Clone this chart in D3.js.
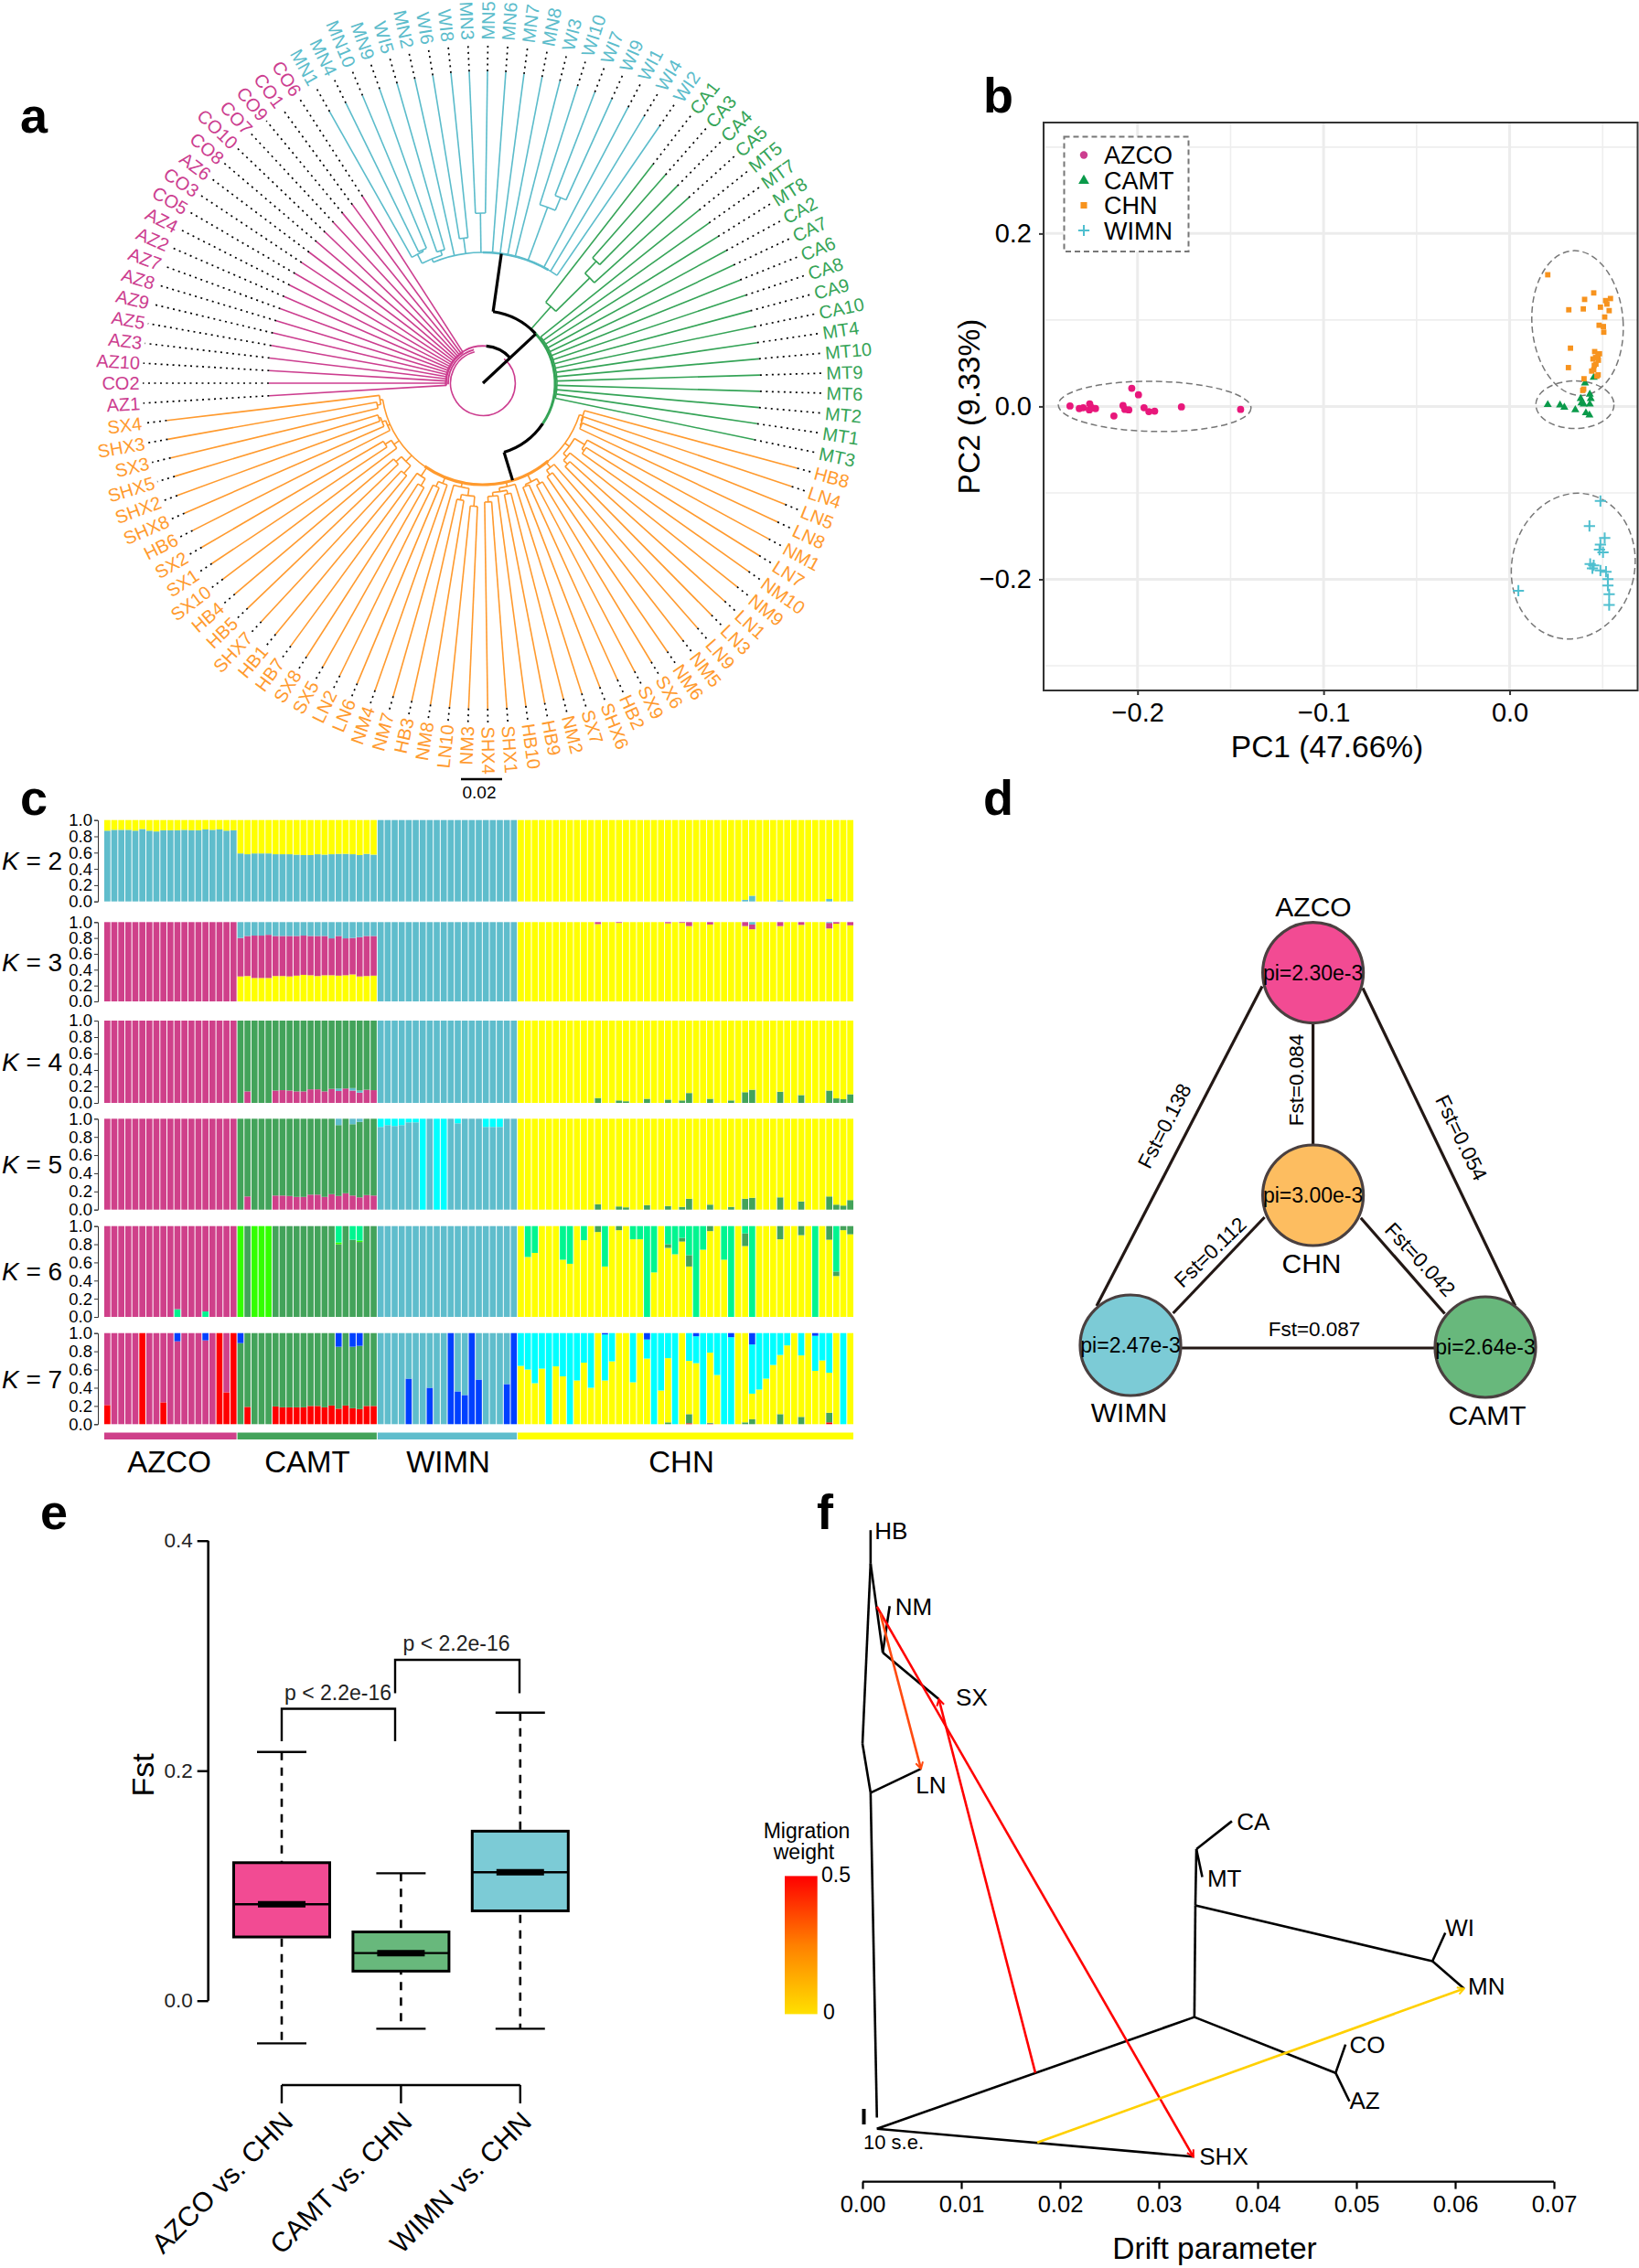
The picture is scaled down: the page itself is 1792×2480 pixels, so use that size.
<!DOCTYPE html>
<html><head><meta charset="utf-8">
<script src="https://cdn.jsdelivr.net/npm/d3@7/dist/d3.min.js"></script>
<style>html,body{margin:0;background:#fff}svg{display:block}text{font-family:"Liberation Sans",Arial,sans-serif}</style>
</head><body><svg id="fig" width="1792" height="2480"></svg>
<script>
/* ---------- colours ---------- */
const PINK="#cc3d8f",TEAL="#5bbccb",GREEN="#35a457",ORANGE="#ff9a2e";
const S_MAG="#cf408a",S_GRN="#43a35a",S_TEAL="#5fbdcc",S_YEL="#ffff00",S_CYAN="#00ffff",S_BLUE="#0040ff",S_RED="#ff0000",S_SPR="#00f590",S_LIME="#33ff00";

/* ---------- a: tree ---------- */
const pinkClade=[40,"AZ1","CO2","AZ10","AZ3","AZ5","AZ9","AZ8","AZ7","AZ2","AZ4","CO5","CO3","AZ6","CO8","CO10","CO7","CO9","CO1","CO6"];
const pinkTips=[234,234,234,235,235,236,236,236,237,237,238,238,238,239,239,240,241,242,243];
const cyanClade=[143,[147,[158,"MN1",[160,"MN4","MN10"]],[152,"MN9","WI5"]],"MN2",[160,"WI6","WI8"],[186,"MN3","MN5"],"MN6","MN7","MN8","WI3",[205,"WI10",[220,"WI7","WI9"]],"WI1","WI4","WI2"];
const greenClade=[79,[112,"CA1",[164,[182,"CA3","CA4"],"CA5"]],[81,"MT5","MT7","MT8","CA2","CA7","CA6","CA8","CA9","CA10","MT4","MT10","MT9","MT6","MT2","MT1","MT3"]];
const orangeClade=[111,
 [115,"HB8",[116,"LN4",[117,"LN5","LN8"]]],
 [117,[130,"NM1",[133,"LN7","NM10"]],[122,"NM9",[128,"LN1","LN3"]]],
 [118,"LN9",[124,"NM5","NM6"]],
 [120,[126,"SX6","SX9"],[122,"HB2","SHX6"]],
 [116,"SX7",[120,[124,"NM2","HB9"],[124,"HB10",[130,"SHX1","SHX4"]]]],
 [116,[124,[135,"NM3","LN10"],[130,"NM8","HB3"]],"NM7"],
 [118,"NM4",[124,"LN6","LN2"]],
 [122,[131,"SX5","SX8"],"HB7"],
 [120,[131,"HB1","SHX7"],[128,"HB5","HB4"]],
 [118,"SX10",[126,"SX1","SX2"]],
 [114,"HB6",[118,"SHX8",[120,"SHX2","SHX5"]]],
 [114,[118,"SX3","SHX3"],"SX4"]];
const cladeTip={cyan:341,green:303,orange:356};
const tipOverride={SX4:348,SHX3:350,SX3:351,SHX5:352};
const backbone=[
 {r:35.4,a:41,b:345,c:PINK,w:1.6},{r:38,a:268,b:345,c:PINK,w:1.8},{r:40.7,a:266,b:365.1,c:PINK,w:1.8},
 {r:79,a:41.5,b:124,c:GREEN,w:3},{r:111,a:140,b:215,c:ORANGE,w:3.2},
 {r:143,a:0,b:30,c:TEAL,w:2.6},
 {r:40.7,a:5.1,b:47,c:"#000",w:3.2},{r:79,a:8.1,b:46.5,c:"#000",w:3.2},{r:79,a:124,b:163,c:"#000",w:3.2}];
const backboneStems=[{t:47,r0:0,r1:79},{t:8.1,r0:79,r1:143},{t:163,r0:79,r1:111}];

/* ---------- b: PCA ---------- */
const pcaAZCO=[[-.2363,.0005],[-.2313,-.0025],[-.2292,-.0015],[-.2257,.003],[-.2259,-.004],[-.2245,-.0015],[-.2226,-.0025],[-.2127,-.011],[-.2078,.001],[-.2068,-.0035],[-.2047,-.004],[-.2031,.021],[-.1995,.0135],[-.1965,-.0015],[-.1939,-.006],[-.1908,-.0055],[-.1764,-.0005],[-.1446,-.0035]];
const pcaCAMT=[[.0205,.002],[.0271,.0015],[.0294,-.001],[.0353,-.004],[.0382,.009],[.0386,.004],[.041,-.0075],[.0405,.027],[.0431,.014],[.0436,.009],[.0431,.0025],[.0429,-.01],[.0452,.0335],[.0398,.0025]];
const pcaCHN=[[.0205,.1523],[.0452,.1313],[.0403,.1238],[.0542,.1248],[.0516,.1224],[.0523,.1184],[.0318,.1118],[.0396,.1128],[.0488,.1148],[.0535,.1108],[.0511,.1034],[.0481,.0939],[.0504,.0924],[.0506,.0859],[.0327,.0674],[.0457,.0634],[.0483,.0609],[.0448,.0549],[.0477,.0534],[.0464,.0489],[.0452,.0424],[.0441,.0409],[.0316,.0449],[.04,.032],[.0469,.035],[.0476,.0365],[.0398,.02],[.0393,.0185],[.0462,.0565],[.0455,.0475],[.0475,.0595]];
const pcaWIMN=[[.0488,-.1094],[.0429,-.1383],[.0511,-.1523],[.0488,-.1598],[.0483,-.1658],[.0502,-.1688],[.0433,-.1823],[.0452,-.1838],[.0445,-.1873],[.0488,-.1898],[.0518,-.1913],[.0528,-.1998],[.0528,-.2073],[.0535,-.2173],[.0535,-.2298],[.0047,-.2132]];
const pcaEllipses=[[-.1908,0,.0518,.029,1],[.0365,.0964,.0245,.0839,-4],[.0351,.002,.021,.0275,0],[.0342,-.1848,.033,.0849,12]];
const pcaLegend=["AZCO","CAMT","CHN","WIMN"];

/* ---------- c: admixture (values per individual, by group) ---------- */
const k2TealAZ=[.87,.88,.88,.88,.87,.89,.87,.86,.875,.875,.875,.88,.875,.875,.885,.88,.885,.87,.875];
const k2TealCA=[.59,.58,.59,.59,.59,.58,.58,.58,.575,.57,.57,.58,.575,.58,.585,.585,.58,.57,.585,.575];
const allWI=[1,1,1,1,1,1,1,1,1,1,1,1,1,1,1,1,1,1,1,1];
const k2TealCN=[0,0,0,0,0,0,0,0,0,0,0,0, 0,0,0,0,0,0,0,0,0,0,0,0, .005,0,0,0,0,0,0,0,.02,.07,0,0, 0,.015,0,0,0,0,0,0,.03,0,0,.005];
const k3YelCA=[.315,.32,.295,.295,.295,.32,.32,.315,.325,.335,.33,.32,.33,.33,.325,.33,.34,.315,.32,.325];
const k3TealCA=[.2,.175,.17,.17,.16,.175,.175,.175,.175,.17,.175,.175,.175,.205,.175,.205,.2,.19,.175,.175];
const k3PinkCN=[0,0,0,0,0,0,0,0,0,0,0,.025, 0,0,.01,0,0,0,0,0,0,.015,0,.01, .05,0,0,.03,0,0,0,0,.05,.06,0,0, 0,.05,0,0,.035,0,0,0,.07,.02,0,.04];
const k3TealCN=[0,0,0,0,0,0,0,0,0,0,0,0, 0,0,0,0,0,0,0,0,0,0,0,0, 0,0,0,0,0,0,0,0,0,.03,0,0, 0,0,0,0,0,0,0,0,.01,0,0,0];
const k4PinkCA=[0,.14,0,0,0,.15,.155,.15,.14,.14,.165,.165,.14,.17,.145,.175,.15,.125,.16,.155];
const k4TealCA=[0,0,0,0,0,0,0,0,0,0,0,0,0,0,.03,0,.03,.025,0,0];
const k4DarkCN=[0,0,0,0,0,0,0,0,0,0,0,.06, 0,0,.03,.02,0,0,.05,0,0,.04,0,.03, .12,0,0,.05,0,0,.03,0,.13,.16,0,0, 0,.135,0,0,.095,0,0,0,.15,.055,.045,.105];
const k5PinkCA=[0,.145,0,0,0,.155,.155,.15,.14,.14,.165,.165,.14,.17,.15,.18,.155,.135,.16,.155];
const k5TealCA=[0,0,0,0,0,0,0,0,0,0,0,0,0,0,.07,0,.06,.035,0,0];
const k5CyanWI=[.09,.07,.08,.07,.04,.04,1,0,1,1,0,.05,0,0,0,.09,.09,.09,0,0];
const k5DarkCN=[0,0,0,0,0,0,0,0,0,0,0,.06, 0,0,.035,.025,0,0,.05,0,0,.04,0,.03, .12,0,0,.055,0,0,.03,0,.12,.13,0,0, 0,.135,0,0,.09,0,0,0,.145,.055,.045,.105];
const k6SprAZ=[0,0,0,0,0,0,0,0,0,0,.085,0,0,0,.06,0,0,0,0];
const k6LimeCA=[1,0,1,1,1,0,0,0,0,0,0,0,0,0,.02,0,0,.015,0,0];
const k6SprCA=[0,0,0,0,0,0,0,0,0,0,0,0,0,0,.18,0,.15,.16,0,0];
const k6DarkCN=[0,0,0,0,0,0,0,0,0,0,0,.065, 0,0,.045,0,0,0,0,0,0,.04,0,.04, .125,0,0,.055,0,0,0,0,.14,0,0,0, 0,.145,0,0,.1,0,0,0,.15,.05,.045,.09];
const k6SprCN=[0,.34,.295,0,0,0,.37,.415,0,.155,0,0, .445,0,0,0,.145,.145,1,.51,0,.2,.31,.13, .32,1,.26,0,0,.37,1,0,.08,1,0,0, 0,0,0,0,0,0,1,0,0,.5,0,0];
const k7RedAZ=[.21,0,0,0,0,1,0,0,.24,0,0,0,0,0,0,0,1,.35,1];
const k7BlueAZ=[0,0,0,0,0,0,0,0,0,0,.09,0,0,0,.08,0,0,0,0];
const k7RedCA=[0,.19,0,0,0,.195,.185,.185,.185,.185,.2,.2,.185,.205,.17,.205,.175,.165,.2,.2];
const k7BlueCA=[.11,0,0,0,0,0,0,0,0,0,0,0,0,0,.15,0,.15,.14,0,0];
const k7BlueWI=[0,0,0,0,.5,0,0,.4,0,0,1,.36,.32,1,.49,0,0,0,.44,1];
const k7RedCN=[0,0,0,0,0,0,0,0,0,0,0,0, 0,0,0,0,0,0,0,0,0,0,0,0, .01,0,0,.005,0,0,0,0,0,0,0,0, 0,0,0,0,0,0,0,0,.02,0,0,0];
const k7DarkCN=[0,0,0,0,0,0,0,0,0,0,0,0, 0,0,0,0,0,0,0,0,0,.02,0,0, .1,0,0,.01,0,0,0,0,.02,.055,0,0, 0,.11,0,0,.08,0,0,0,.105,0,0,0];
const k7YelCN=[.64,.6,.45,.61,0,.635,.525,0,.48,.675,.4,1, .48,.69,1,1,.46,1,.72,0,.37,.705,0,1, .585,.67,0,.77,.54,0,0,1,.98,.28,.38,.5, .65,.65,.865,1,.675,1,.585,.7,.44,1,0,1];
const k7BlueCN=[0,0,0,0,0,0,0,0,0,0,0,0, .015,0,0,0,0,0,.07,0,0,0,0,0, 0,.035,0,0,0,0,.045,0,0,.125,0,0, 0,0,0,0,0,0,.03,0,0,0,0,0];
const admixGroups=["AZCO","CAMT","WIMN","CHN"];
const admixSizes=[19,20,20,48];
const admixTicks=[0,.2,.4,.6,.8,1];

/* ---------- d: network ---------- */
const netPops=["AZCO","CHN","WIMN","CAMT"];
const netPi=["pi=2.30e-3","pi=3.00e-3","pi=2.47e-3","pi=2.64e-3"];
const netEdges=[["AZCO","WIMN","Fst=0.138"],["AZCO","CHN","Fst=0.084"],["AZCO","CAMT","Fst=0.054"],["CHN","WIMN","Fst=0.112"],["CHN","CAMT","Fst=0.042"],["WIMN","CAMT","Fst=0.087"]];

/* ---------- e: boxplot ---------- */
const boxNames=["AZCO vs. CHN","CAMT vs. CHN","WIMN vs. CHN"];
const boxLo=[-.0371,-.0244,-.0244];
const boxQ1=[.0554,.0257,.0781];
const boxMed=[.0838,.0414,.1117];
const boxQ3=[.12,.0598,.1474];
const boxHi=[.2163,.1108,.2504];

/* ---------- f: treemix (drift, height) ---------- */
const mixEdges=[
 [[.00146,13.08],[.00082,79.4]],[[.00082,79.4],[0,89.4]],[[0,89.4],[.00082,126.2]],[[.00082,126.2],[.00082,133]],
 [[.00082,126.2],[.00205,108]],[[.00205,108],[.00275,117.5]],[[.00205,108],[.00773,98.5]],[[.00082,79.4],[.00592,84.3]],
 [[.00146,10.8],[.0336,33.6]],[[.0336,33.6],[.0337,56.4]],[[.0337,56.4],[.0338,67.9]],[[.0338,67.9],[.0374,73.6]],[[.0338,67.9],[.0344,62.2]],
 [[.0337,56.4],[.0577,45]],[[.0577,45],[.059,50.8]],[[.0577,45],[.0609,39.4]],
 [[.0336,33.6],[.0479,22.2]],[[.0479,22.2],[.0489,28]],[[.0479,22.2],[.0493,16.4]],
 [[.00146,10.8],[.0335,5.1]]];
const mixMigration=[
 {from:[.00146,117.4],to:[.0335,5.1],w:.5},
 {from:[.0018,116],to:[.00592,84.3],w:.4},
 {from:[.0175,22.2],to:[.00773,98.5],w:.5},
 {from:[.0177,8],to:[.0609,39.4],w:0}];
const mixLabels=[["HB",.00123,133],["NM",.0033,117.5],["SX",.00945,99],["LN",.0054,81],["CA",.0379,73.6],["MT",.0349,62],["WI",.059,51.9],["MN",.0613,39.9],["CO",.0493,28],["AZ",.0493,16.6],["SHX",.0341,5.2]];
const mixTicks=[0,.01,.02,.03,.04,.05,.06,.07];

/* ---------- drawing ---------- */
const svg=d3.select("#fig");
svg.append("rect").attr("width",1792).attr("height",2480).attr("fill","#fff");
const letters=[["a",22,145],["b",1075,123],["c",22,891],["d",1075,891],["e",44,1672],["f",893,1672]];
svg.selectAll(".let").data(letters).join("text").attr("x",d=>d[1]).attr("y",d=>d[2]).text(d=>d[0]).attr("font-size",54).attr("font-weight","bold");

/* ===== a ===== */
(function(){
 const g=svg.append("g").attr("transform","translate(528,419)").attr("fill","none");
 const clades=[[pinkClade,PINK,"pink"],[cyanClade,TEAL,"cyan"],[greenClade,GREEN,"green"],[orangeClade,ORANGE,"orange"]];
 const step=360/107, start=270-step; let idx=0;
 const rad=t=>t*Math.PI/180;
 const arcPath=(r,a,b)=>{const p=d3.path();p.arc(0,0,r,rad(a-90),rad(b-90),false);return p.toString();};
 const seg=(t,r0,r1)=>"M"+d3.pointRadial(rad(t),r0)+"L"+d3.pointRadial(rad(t),r1);
 clades.forEach(([nested,col,key])=>{
  const root=d3.hierarchy(nested,d=>Array.isArray(d)?d.slice(1):null);
  const leaves=root.leaves();
  leaves.forEach((l,i)=>{l.theta=start+step*idx++;l.r=key==="pink"?pinkTips[i]:(tipOverride[l.data]||cladeTip[key]);});
  root.eachAfter(n=>{if(n.children){n.theta=(n.children[0].theta+n.children[n.children.length-1].theta)/2;n.r=n.data[0];}});
  const cg=g.append("g").attr("stroke",col).attr("stroke-width",1.6);
  root.descendants().forEach(n=>{
   if(n.children) cg.append("path").attr("d",arcPath(n.r,n.children[0].theta,n.children[n.children.length-1].theta));
   if(n.parent) cg.append("path").attr("d",seg(n.theta,n.parent.r,n.r));
  });
  leaves.forEach(l=>{
   g.append("path").attr("d",seg(l.theta,l.r,372)).attr("stroke","#000").attr("stroke-width",1.7).attr("stroke-dasharray","2 4.5");
   const t=((l.theta%360)+360)%360, right=t<180;
   const [x,y]=d3.pointRadial(rad(l.theta),375.5);
   g.append("text").attr("transform",`translate(${x},${y}) rotate(${right?t-90:t+90})`).attr("text-anchor",right?"start":"end").attr("dy","0.35em").attr("font-size",20).attr("fill",col).attr("stroke","none").text(l.data);
  });
 });
 g.selectAll(".bb").data(backbone).join("path").attr("d",d=>arcPath(d.r,d.a,d.b)).attr("stroke",d=>d.c).attr("stroke-width",d=>d.w);
 g.selectAll(".st").data(backboneStems).join("path").attr("d",d=>seg(d.t,d.r0,d.r1)).attr("stroke","#000").attr("stroke-width",3.2);
 svg.append("line").attr("x1",504).attr("x2",549).attr("y1",852).attr("y2",852).attr("stroke","#000").attr("stroke-width",2.5);
 svg.append("text").attr("x",524).attr("y",873).attr("text-anchor","middle").attr("font-size",19).text("0.02");
})();

/* ===== b ===== */
(function(){
 const L=1141,R=1790.5,T=134,B=755;
 const x=d3.scaleLinear().domain([-.2505,.0688]).range([L,R]);
 const y=d3.scaleLinear().domain([.3284,-.3286]).range([T,B]);
 const g=svg.append("g");
 [-.25,-.15,-.05,.05].forEach(v=>{if(x(v)>L)g.append("line").attr("x1",x(v)).attr("x2",x(v)).attr("y1",T).attr("y2",B).attr("stroke","#eeeeee").attr("stroke-width",1.6);});
 [.3,.1,-.1,-.3].forEach(v=>g.append("line").attr("y1",y(v)).attr("y2",y(v)).attr("x1",L).attr("x2",R).attr("stroke","#eeeeee").attr("stroke-width",1.6));
 [-.2,-.1,0].forEach(v=>g.append("line").attr("x1",x(v)).attr("x2",x(v)).attr("y1",T).attr("y2",B).attr("stroke","#ececec").attr("stroke-width",3));
 [.2,0,-.2].forEach(v=>g.append("line").attr("y1",y(v)).attr("y2",y(v)).attr("x1",L).attr("x2",R).attr("stroke","#ececec").attr("stroke-width",3));
 const fmt=d3.format(".1f");
 const ax=g.append("g").attr("transform",`translate(0,${B})`).call(d3.axisBottom(x).tickValues([-.2,-.1,0]).tickFormat(fmt).tickSize(5).tickPadding(8));
 const ay=g.append("g").attr("transform",`translate(${L},0)`).call(d3.axisLeft(y).tickValues([.2,0,-.2]).tickFormat(fmt).tickSize(5).tickPadding(8));
 [ax,ay].forEach(a=>{a.select(".domain").remove();a.selectAll("line").attr("stroke","#333").attr("stroke-width",2);a.selectAll("text").attr("font-size",29).attr("fill","#000");});
 pcaEllipses.forEach(e=>{
  g.append("ellipse").attr("transform",`translate(${x(e[0])},${y(e[1])}) rotate(${e[4]})`).attr("rx",x(e[2])-x(0)).attr("ry",y(0)-y(e[3])).attr("fill","none").attr("stroke","#777").attr("stroke-width",1.5).attr("stroke-dasharray","7 4");
 });
 const plus={draw(c,s){const r=Math.sqrt(s)/2;c.moveTo(-r,0);c.lineTo(r,0);c.moveTo(0,-r);c.lineTo(0,r);}};
 const sym=[[pcaAZCO,d3.symbolCircle,48,"#e8177b"],[pcaCAMT,d3.symbolTriangle,34,"#0a9a4a"],[pcaCHN,d3.symbolSquare,34,"#f7931e"],[pcaWIMN,plus,150,"#4fbfcf"]];
 sym.forEach(([pts,ty,s,c])=>{
  g.selectAll(null).data(pts).join("path").attr("d",d3.symbol().type(ty).size(s)).attr("transform",d=>`translate(${x(d[0])},${y(d[1])})`)
   .attr("fill",ty===plus?"none":c).attr("stroke",ty===plus?c:"none").attr("stroke-width",2);
 });
 g.append("rect").attr("x",L).attr("y",T).attr("width",R-L).attr("height",B-T).attr("fill","none").attr("stroke","#333").attr("stroke-width",2);
 g.append("rect").attr("x",1163.5).attr("y",149.5).attr("width",136).attr("height",125.5).attr("fill","#fff").attr("stroke","#777").attr("stroke-width",2).attr("stroke-dasharray","6 4");
 const ly=[169.5,197.5,224.5,252], lc=[PINK,"#0a9a4a","#f7931e","#4fbfcf"];
 pcaLegend.forEach((n,i)=>{
  g.append("path").attr("transform",`translate(1185,${ly[i]})`).attr("d",d3.symbol().type(sym[i][1]).size(i===3?150:i===1?60:i===2?50:55))
   .attr("fill",i===3?"none":lc[i]).attr("stroke",i===3?lc[i]:"none").attr("stroke-width",2);
  g.append("text").attr("x",1207).attr("y",ly[i]).attr("dy","0.36em").attr("font-size",27).text(n);
 });
 g.append("text").attr("x",1451).attr("y",828).attr("text-anchor","middle").attr("font-size",33.5).text("PC1 (47.66%)");
 g.append("text").attr("transform","translate(1071,444.5) rotate(-90)").attr("text-anchor","middle").attr("font-size",33.5).text("PC2 (9.33%)");
})();

/* ===== c ===== */
(function(){
 const pad=(a,n)=>a&&a.length?a:new Array(n).fill(0);
 const col=(az,ca,wi,cn)=>[...pad(az,19),...pad(ca,20),...pad(wi,20),...pad(cn,48)];
 const fill4=(a,b,c,d)=>[a,b,c,d];
 const rows=[
  {k:2,top:896.7,bot:985.7,fills:fill4(S_YEL,S_YEL,S_YEL,S_YEL),layers:[[S_TEAL,col(k2TealAZ,k2TealCA,allWI,k2TealCN)],[null]]},
  {k:3,top:1008.3,bot:1095,fills:fill4(S_MAG,S_MAG,S_TEAL,S_YEL),layers:[[S_YEL,col(null,k3YelCA)],[null],[S_MAG,col(null,null,null,k3PinkCN)],[S_TEAL,col(null,k3TealCA,null,k3TealCN)]]},
  {k:4,top:1116,bot:1206,fills:fill4(S_MAG,S_GRN,S_TEAL,S_YEL),layers:[[S_MAG,col(null,k4PinkCA)],[S_TEAL,col(null,k4TealCA)],[S_GRN,col(null,null,null,k4DarkCN)],[null]]},
  {k:5,top:1223.3,bot:1322.7,fills:fill4(S_MAG,S_GRN,S_TEAL,S_YEL),layers:[[S_MAG,col(null,k5PinkCA)],[S_GRN,col(null,null,null,k5DarkCN)],[null],[S_TEAL,col(null,k5TealCA)],[S_CYAN,col(null,null,k5CyanWI)]]},
  {k:6,top:1340.7,bot:1440,fills:fill4(S_MAG,S_GRN,S_TEAL,S_YEL),layers:[[S_SPR,col(k6SprAZ)],[null],[S_GRN,col(null,null,null,k6DarkCN)],[S_LIME,col(null,k6LimeCA)],[S_SPR,col(null,k6SprCA,null,k6SprCN)]]},
  {k:7,top:1457.7,bot:1557.3,fills:fill4(S_MAG,S_GRN,S_TEAL,S_CYAN),layers:[[S_RED,col(k7RedAZ,k7RedCA,null,k7RedCN)],[S_GRN,col(null,null,null,k7DarkCN)],[S_BLUE,col(null,null,k7BlueWI)],[S_YEL,col(null,null,null,k7YelCN)],[null],[S_BLUE,col(k7BlueAZ,k7BlueCA,null,k7BlueCN)]]}
 ];
 const n=d3.sum(admixSizes);
 const x=d3.scaleBand().domain(d3.range(n)).range([114,933]).paddingInner(.13).paddingOuter(0);
 const groupOf=[];admixSizes.forEach((s,g)=>{for(let i=0;i<s;i++)groupOf.push(g);});
 rows.forEach(row=>{
  const y=d3.scaleLinear().domain([0,1]).range([row.bot,row.top]);
  const fillIdx=row.layers.findIndex(l=>l[0]===null);
  const table=d3.range(n).map(i=>{
   const o=row.layers.map(l=>l[0]===null?0:(l[1][i]||0));
   o[fillIdx]=Math.max(0,1-d3.sum(o));
   return o;
  });
  const stacked=d3.stack().keys(row.layers.map((_,i)=>i))(table);
  const g=svg.append("g");
  stacked.forEach((s,li)=>{
   g.selectAll(null).data(s.map((d,i)=>({d,i})).filter(e=>e.d[1]-e.d[0]>0)).join("rect")
    .attr("x",e=>x(e.i)).attr("width",x.bandwidth()).attr("y",e=>y(e.d[1])).attr("height",e=>y(e.d[0])-y(e.d[1]))
    .attr("fill",e=>li===fillIdx?row.fills[groupOf[e.i]]:row.layers[li][0]);
  });
  const a=g.append("g").attr("transform","translate(107,0)").call(d3.axisLeft(y).tickValues(admixTicks).tickFormat(d3.format(".1f")).tickSize(4).tickPadding(2));
  a.select(".domain").attr("stroke","#333").attr("stroke-width",1);
  a.selectAll("line").attr("stroke","#333");
  a.selectAll("text").attr("font-size",18.5).attr("fill","#000");
  const t=g.append("text").attr("x",2).attr("y",(row.top+row.bot)/2+10).attr("font-size",28);
  t.append("tspan").attr("font-style","italic").text("K");t.append("tspan").text(" = "+row.k);
 });
 const stripC=[S_MAG,S_GRN,S_TEAL,S_YEL], cx=[185,336,490,745];
 let c0=0;
 admixSizes.forEach((s,i)=>{
  svg.append("rect").attr("x",x(c0)).attr("y",1566.5).attr("width",x(c0+s-1)+x.bandwidth()-x(c0)).attr("height",7.5).attr("fill",stripC[i]);
  svg.append("text").attr("x",cx[i]).attr("y",1610).attr("text-anchor","middle").attr("font-size",33).text(admixGroups[i]);
  c0+=s;
 });
})();

/* ===== d ===== */
(function(){
 const g=svg.append("g");
 const pos={AZCO:[1435.6,1063.6],CHN:[1435.6,1307],WIMN:[1236,1471],CAMT:[1624,1473]};
 const fills={AZCO:"#f24b93",CHN:"#fdbd60",WIMN:"#7ccbd6",CAMT:"#68b87c"};
 const nameY={AZCO:[1436,1002],CHN:[1434,1392],WIMN:[1234.4,1555],CAMT:[1626,1558]};
 const ends={"Fst=0.138":[1380,1078.6,1199,1428],"Fst=0.084":[1435.6,1100,1435.6,1270],"Fst=0.054":[1490,1080.5,1656.7,1428],"Fst=0.112":[1382.6,1331,1282.6,1436],"Fst=0.042":[1487.8,1331.7,1579.6,1436.5],"Fst=0.087":[1280,1474,1580,1474]};
 const labelPos={"Fst=0.138":[1273,1231,-62.6],"Fst=0.084":[1416.7,1181,-90],"Fst=0.054":[1598,1244,64],"Fst=0.112":[1323,1369,-44],"Fst=0.042":[1553,1377,47],"Fst=0.087":[1437,1453,0]};
 g.selectAll(null).data(netEdges).join("line").attr("x1",d=>ends[d[2]][0]).attr("y1",d=>ends[d[2]][1]).attr("x2",d=>ends[d[2]][2]).attr("y2",d=>ends[d[2]][3]).attr("stroke","#231815").attr("stroke-width",3.2);
 netEdges.forEach(e=>{const p=labelPos[e[2]];g.append("text").attr("transform",`translate(${p[0]},${p[1]}) rotate(${p[2]})`).attr("text-anchor","middle").attr("dy","0.36em").attr("font-size",22.5).text(e[2]);});
 netPops.forEach((n,i)=>{
  g.append("circle").attr("cx",pos[n][0]).attr("cy",pos[n][1]).attr("r",55).attr("fill",fills[n]).attr("stroke","#4a4040").attr("stroke-width",3.2);
  g.append("text").attr("x",pos[n][0]).attr("y",pos[n][1]).attr("text-anchor","middle").attr("dy","0.36em").attr("font-size",23).text(netPi[i]);
  g.append("text").attr("x",nameY[n][0]).attr("y",nameY[n][1]).attr("text-anchor","middle").attr("font-size",30).text(n);
 });
})();

/* ===== e ===== */
(function(){
 const g=svg.append("g");
 const y=d3.scaleLinear().domain([0,.4]).range([2187.7,1684.7]);
 const x=d3.scalePoint().domain(boxNames).range([308,568.8]);
 const fills=["#f24b93","#68b87c","#7ccbd6"];
 const a=g.append("g").attr("transform","translate(227.7,0)").call(d3.axisLeft(y).tickValues([0,.2,.4]).tickFormat(d3.format(".1f")).tickSize(12).tickSizeOuter(0).tickPadding(5));
 a.select(".domain").attr("stroke","#000").attr("stroke-width",2.6).attr("d",`M0,${y(.4)}V${y(0)}`);
 a.selectAll("line").attr("stroke","#000").attr("stroke-width",2.4);
 a.selectAll("text").attr("font-size",22.5).attr("fill","#222");
 g.append("text").attr("transform","translate(168,1941) rotate(-90)").attr("text-anchor","middle").attr("font-size",34).text("Fst");
 boxNames.forEach((n,i)=>{
  const c=x(n);
  g.append("line").attr("x1",c).attr("x2",c).attr("y1",y(boxHi[i])).attr("y2",y(boxLo[i])).attr("stroke","#000").attr("stroke-width",2.6).attr("stroke-dasharray","9 8");
  [boxHi[i],boxLo[i]].forEach(v=>g.append("line").attr("x1",c-27).attr("x2",c+27).attr("y1",y(v)).attr("y2",y(v)).attr("stroke","#000").attr("stroke-width",2.4));
  g.append("rect").attr("x",c-52.5).attr("width",105).attr("y",y(boxQ3[i])).attr("height",y(boxQ1[i])-y(boxQ3[i])).attr("fill",fills[i]).attr("stroke","#000").attr("stroke-width",3);
  g.append("line").attr("x1",c-52.5).attr("x2",c+52.5).attr("y1",y(boxMed[i])).attr("y2",y(boxMed[i])).attr("stroke","#000").attr("stroke-width",2.4);
  g.append("line").attr("x1",c-26).attr("x2",c+26).attr("y1",y(boxMed[i])).attr("y2",y(boxMed[i])).attr("stroke","#000").attr("stroke-width",7);
  g.append("line").attr("x1",c).attr("x2",c).attr("y1",2280).attr("y2",2300).attr("stroke","#000").attr("stroke-width",2.4);
  g.append("text").attr("transform",`translate(${c+14},2322) rotate(-45)`).attr("text-anchor","end").attr("font-size",30).text(n);
 });
 g.append("line").attr("x1",308).attr("x2",568.8).attr("y1",2280).attr("y2",2280).attr("stroke","#000").attr("stroke-width",2.4);
 const br=[[308,432,1868.5,1904,369.6,1859],[432,568,1815,1851.5,499,1805]];
 br.forEach(b=>{
  g.append("path").attr("d",`M${b[0]},${b[3]}V${b[2]}H${b[1]}V${b[3]}`).attr("fill","none").attr("stroke","#000").attr("stroke-width",2.4);
  g.append("text").attr("x",b[4]).attr("y",b[5]).attr("text-anchor","middle").attr("font-size",23).attr("fill","#222").text("p < 2.2e-16");
 });
})();

/* ===== f ===== */
(function(){
 const g=svg.append("g");
 const x=d3.scaleLinear().domain([0,.07]).range([943,1699]);
 const y=d3.scaleLinear().domain([0,139.2]).range([2385.6,1640]);
 const a=g.append("g").attr("transform","translate(0,2385.6)").call(d3.axisBottom(x).tickValues(mixTicks).tickFormat(d3.format(".2f")).tickSize(8).tickSizeOuter(0).tickPadding(7));
 a.select(".domain").attr("stroke","#000").attr("stroke-width",2.4).attr("d",`M${x(0)},0H${x(.07)}`);
 a.selectAll("line").attr("stroke","#000").attr("stroke-width",2.2);
 a.selectAll("text").attr("font-size",25.5).attr("fill","#000");
 g.append("text").attr("x",1328).attr("y",2470).attr("text-anchor","middle").attr("font-size",33.5).text("Drift parameter");
 const line=d3.line().x(d=>x(d[0])).y(d=>y(d[1]));
 g.selectAll(null).data(mixEdges).join("path").attr("d",line).attr("fill","none").attr("stroke","#000").attr("stroke-width",2.6);
 const heat=d3.scaleLinear().domain([0,.25,.5]).range(["#ffd000","#ff8000","#ff0000"]);
 const defs=svg.append("defs");
 mixMigration.forEach((m,i)=>{
  const c=m.w===.4?"#ff4a10":heat(m.w);
  defs.append("marker").attr("id","ah"+i).attr("viewBox","-8 -5 9 10").attr("refX",0).attr("refY",0).attr("markerUnits","userSpaceOnUse").attr("markerWidth",10).attr("markerHeight",10).attr("orient","auto")
   .append("path").attr("d","M-7,-4L0,0L-7,4").attr("fill","none").attr("stroke",c).attr("stroke-width",2);
  g.append("path").attr("d",line([m.from,m.to])).attr("fill","none").attr("stroke",c).attr("stroke-width",2.6).attr("marker-end",`url(#ah${i})`);
 });
 g.selectAll(null).data(mixLabels).join("text").attr("x",d=>x(d[1])).attr("y",d=>y(d[2])).attr("dy","0.36em").attr("font-size",26).text(d=>d[0]);
 g.append("rect").attr("x",942.5).attr("y",2306).attr("width",4).attr("height",17).attr("fill","#000");
 g.append("text").attr("x",944).attr("y",2350).attr("font-size",22).text("10 s.e.");
 g.append("text").attr("x",882).attr("y",2010).attr("text-anchor","middle").attr("font-size",23).text("Migration");
 g.append("text").attr("x",879).attr("y",2033).attr("text-anchor","middle").attr("font-size",23).text("weight");
 const gr=defs.append("linearGradient").attr("id","mig").attr("x1",0).attr("x2",0).attr("y1",0).attr("y2",1);
 gr.append("stop").attr("offset","0").attr("stop-color","#ff0000");
 gr.append("stop").attr("offset","0.5").attr("stop-color","#ff8000");
 gr.append("stop").attr("offset","1").attr("stop-color","#ffe000");
 g.append("rect").attr("x",858).attr("y",2051.4).attr("width",35.7).attr("height",151).attr("fill","url(#mig)");
 g.append("text").attr("x",898).attr("y",2058).attr("font-size",23).text("0.5");
 g.append("text").attr("x",900).attr("y",2208).attr("font-size",23).text("0");
})();
</script></body></html>
